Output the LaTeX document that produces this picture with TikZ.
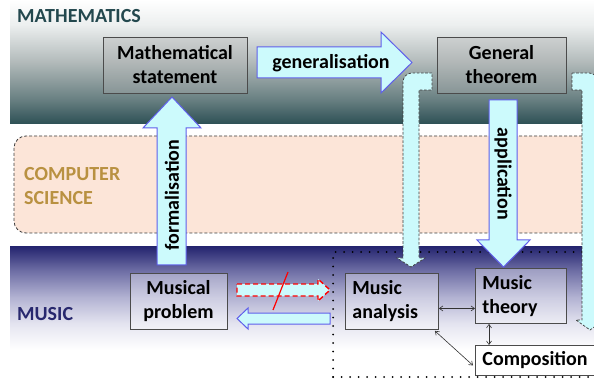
\documentclass[tikz,border=0pt]{standalone}
\usepackage{fontspec}
\setmainfont{Carlito}
\usetikzlibrary{arrows.meta,calc}
\definecolor{mathdark}{RGB}{45,80,85}
\definecolor{mathmidA}{RGB}{105,128,130}
\definecolor{mathmidB}{RGB}{178,186,186}
\definecolor{mathlight}{RGB}{236,239,239}
\definecolor{musdark}{RGB}{38,38,112}
\definecolor{musmidA}{RGB}{110,110,165}
\definecolor{musmidB}{RGB}{178,178,210}
\definecolor{muslight}{RGB}{228,228,240}
\definecolor{csfill}{RGB}{252,229,216}
\definecolor{mathtext}{RGB}{35,72,78}
\definecolor{cstext}{RGB}{185,145,65}
\definecolor{mustext}{RGB}{40,40,110}
\definecolor{arrowfill}{RGB}{204,250,252}
\definecolor{arrowblue}{RGB}{95,95,235}
\definecolor{boxborder}{RGB}{75,75,75}
\definecolor{dashgray}{RGB}{60,60,60}
\pgfdeclareverticalshading{mathsh}{100bp}{color(0bp)=(mathdark); color(25bp)=(mathdark); color(35bp)=(mathmidA); color(50bp)=(mathmidB); color(65bp)=(mathlight); color(75bp)=(white); color(100bp)=(white)}
\pgfdeclareverticalshading{mussh}{100bp}{color(0bp)=(white); color(25bp)=(white); color(36bp)=(white); color(46bp)=(muslight); color(56bp)=(musmidB); color(66bp)=(musmidA); color(75bp)=(musdark); color(100bp)=(musdark)}
\begin{document}
\begin{tikzpicture}[x=1pt,y=-1pt,
  bigtxt/.style={font=\bfseries\fontsize{20}{24}\selectfont},
  box/.style={bigtxt, draw=boxborder, line width=0.9pt, fill=white, fill opacity=0.35, text opacity=1, align=center, inner sep=0pt},
  mathbox/.style={box, fill=gray!60, fill opacity=0.3},
  leftbox/.style={box, align=left, inner xsep=7pt},
  blockarrow/.style={fill=arrowfill, draw=arrowblue, line width=1pt, line join=miter},
  bentarrow/.style={fill=arrowfill, draw=dashgray, line width=0.7pt, dash pattern=on 2.6pt off 1.6pt},
  redarrow/.style={fill=arrowfill, draw=red, line width=1.4pt, dash pattern=on 5pt off 3pt},
  dbl/.style={draw=gray!40!black, line width=0.6pt, {Straight Barb[length=3.5pt,width=5pt]}-{Straight Barb[length=3.5pt,width=5pt]}},
  lbl/.style={bigtxt, inner sep=0pt},
  bandlbl/.style={bigtxt, anchor=west, inner sep=0pt}
]
\useasboundingbox (0,0) rectangle (594,379);
\clip (0,0) rectangle (594,379);
\fill[white] (0,0) rectangle (594,379);
% bands
\fill[shading=mathsh] (10,0) rectangle (594,124);
\fill[shading=mussh] (10,247) rectangle (594,379);
\draw[fill=csfill, draw=dashgray, line width=0.8pt, dash pattern=on 3pt off 2pt, rounded corners=12pt] (14,136) rectangle (640,233);
% dotted region
\draw[line width=2pt, line cap=round, dash pattern=on 0pt off 8.5pt] (333,377) -- (333,252) -- (640,252);
\draw[line width=2pt, line cap=round, dash pattern=on 0pt off 8.5pt] (333,377) -- (640,377);
% band labels
\node[bandlbl, text=mathtext] (lmath) at (17,16) {MATHEMATICS};
\node[bandlbl, text=cstext, align=left] (lcs) at (24,186) {COMPUTER\\SCIENCE};
\node[bandlbl, text=mustext] (lmus) at (17,314) {MUSIC};
% bent dashed arrows
\draw[bentarrow] (432,73) {[rounded corners=9pt] -- (403,73) -- (403,130)} -- (403,258) -- (397,258) -- (411,267) -- (425,258) -- (419,258) -- (419,90) -- (432,90) -- cycle;
\draw[bentarrow] (572,73) {[rounded corners=9pt] -- (598,73) -- (598,130)} -- (598,320) -- (604,320) -- (590,330) -- (576,320) -- (582,320) -- (582,90) -- (572,90) -- cycle;
% block arrows
\draw[blockarrow] (257,47) -- (381,47) -- (381,32) -- (412,62.5) -- (381,93) -- (381,78) -- (257,78) -- cycle;
\draw[blockarrow] (157,265) -- (157,128) -- (143,128) -- (172,97) -- (201,128) -- (186,128) -- (186,265) -- cycle;
\draw[blockarrow] (489,100) -- (517,100) -- (517,240) -- (530,240) -- (503.5,267) -- (477,240) -- (489,240) -- cycle;
\node[lbl] (gl) at (331,63) {generalisation};
\node[lbl, rotate=90] (fl) at (172,195) {formalisation};
\node[lbl, rotate=-90] (al) at (503,174) {application};
% red crossed arrow and return arrow
\draw[redarrow] (237,284) -- (318,284) -- (318,279) -- (330,290) -- (318,301) -- (318,296) -- (237,296) -- cycle;
\draw[red, line width=1.2pt] (288,272) -- (273,310);
\draw[blockarrow] (330,313) -- (248,313) -- (248,308) -- (237,318.5) -- (248,329) -- (248,324) -- (330,324) -- cycle;
% boxes
\node[mathbox, minimum width=144pt, minimum height=56pt] (ms) at (175,65) {Mathematical\\statement};
\node[mathbox, minimum width=129pt, minimum height=56pt] (gt) at (501.5,65) {General\\theorem};
\node[box, minimum width=97pt, minimum height=56pt] (mp) at (178.5,301) {Musical\\problem};
\node[leftbox, text width=79pt, minimum height=56pt, anchor=north west] (ma) at (345,273) {Music\\analysis};
\node[leftbox, text width=77pt, minimum height=55pt, anchor=north west] (mt) at (475,268) {Music\\theory};
\node[leftbox, fill opacity=1, text width=120pt, minimum height=30pt, anchor=north west] (co) at (475,345) {Composition};
% connectors
\draw[dbl] ([yshift=-7pt]ma.east) -- ([yshift=-7pt]ma.east -| mt.west);
\draw[dbl] ([xshift=14pt]mt.south west) -- ([xshift=14pt]mt.south west |- co.north);
\draw[dbl] ([xshift=-4pt,yshift=-1pt]ma.south east) -- ([xshift=-2pt,yshift=-5pt]co.west);
\end{tikzpicture}
\end{document}
